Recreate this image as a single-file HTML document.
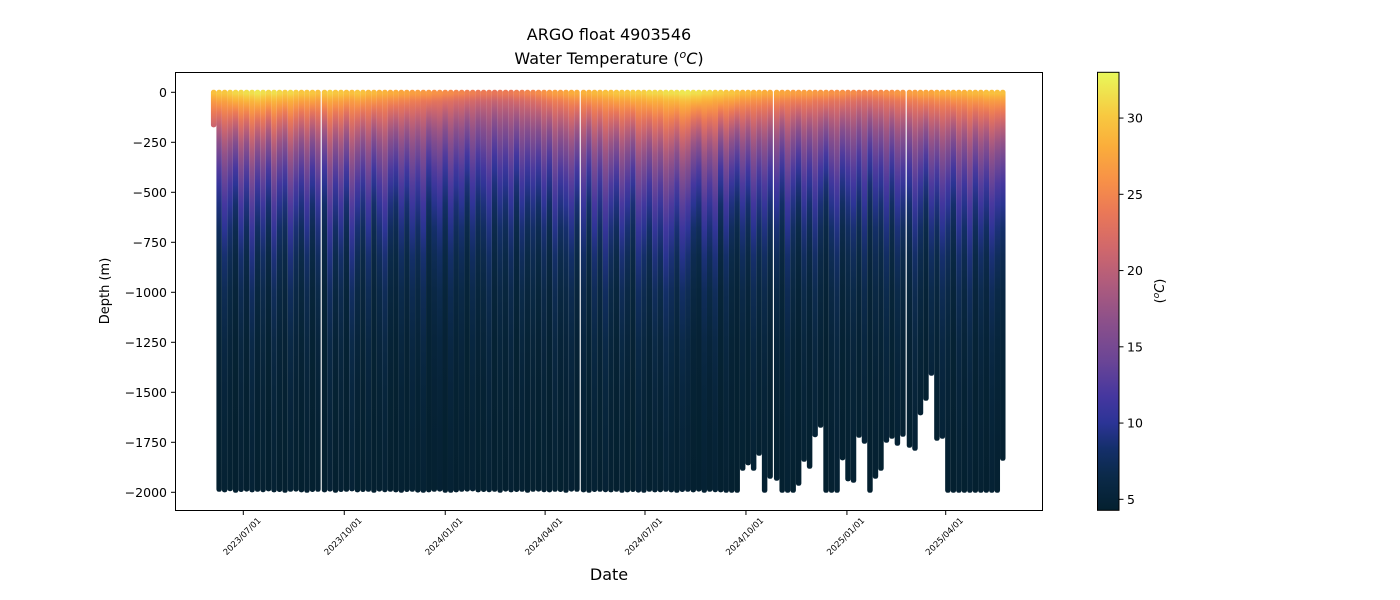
<!DOCTYPE html>
<html><head><meta charset="utf-8"><style>
html,body{margin:0;padding:0;background:#fff;}
svg{display:block;font-family:"DejaVu Sans","Liberation Sans",sans-serif;}
</style></head><body>
<svg id="chart" width="1400" height="600" viewBox="0 0 1400 600" xmlns="http://www.w3.org/2000/svg">
<defs id="defs"></defs>
<text x="609" y="40" text-anchor="middle" font-size="16">ARGO float 4903546</text>
<text x="609" y="64" text-anchor="middle" font-size="16">Water Temperature (<tspan font-style="italic" font-size="11" dy="-6">o</tspan><tspan font-style="italic" dy="6">C</tspan>)</text>
<g id="profiles"></g>
<rect x="175.5" y="72.5" width="867" height="438" fill="none" stroke="#000" stroke-width="1"/>
<g id="yaxis"></g>
<g id="xaxis"></g>
<text transform="translate(109,291) rotate(-90)" text-anchor="middle" font-size="13">Depth (m)</text>
<text x="609" y="580" text-anchor="middle" font-size="16">Date</text>
<g id="cbar"></g>
<text transform="translate(1164,291) rotate(-90)" text-anchor="middle" font-size="13">(<tspan font-style="italic" font-size="9" dy="-5">o</tspan><tspan font-style="italic" dy="5">C</tspan>)</text>
</svg>
<script>
// ---- data (days since 2023-07-01) ----
const profileDays = [-27,-22,-17,-12,-7,-2,3,8,13,18,23,28,33,38,43,48,53,58,63,68,
74,79,84,89,94,99,104,109,114,119,124,129,134,139,144,149,154,159,164,169,174,179,184,189,194,199,204,209,214,219,224,229,234,239,244,249,254,259,264,269,274,279,284,289,294,299,304,
310,315,320,325,330,335,340,345,350,355,360,365,370,375,380,385,390,395,400,405,410,415,420,425,430,435,440,445,450,455,460,465,470,475,480,
486,491,496,501,506,511,516,521,526,531,536,541,546,551,556,561,566,571,576,581,586,591,596,601,
607,612,617,622,627,632,637,642,647,652,657,662,667,672,677,682,687,692];
const maxDepth = [163,1985,1988,1982,1990,1986,1984,1988,1985,1987,1983,1988,1986,1990,1985,1984,1988,1990,1986,1985,
1988,1984,1990,1986,1985,1983,1988,1986,1985,1990,1984,1987,1985,1988,1990,1986,1985,1989,1990,1988,1985,1984,1990,1990,1988,1985,1984,1983,1988,1986,1987,1985,1990,1984,1988,1986,1985,1990,1985,1984,1987,1988,1985,1986,1990,1984,1985,
1988,1990,1986,1985,1987,1988,1985,1990,1988,1986,1989,1990,1985,1988,1987,1985,1988,1990,1986,1985,1988,1984,1990,1985,1987,1988,1990,1990,1990,1880,1853,1880,1805,1990,1920,
1930,1990,1990,1990,1955,1835,1870,1712,1665,1990,1990,1990,1828,1933,1940,1715,1745,1990,1920,1880,1740,1720,1755,1710,
1765,1780,1603,1530,1405,1730,1720,1990,1990,1990,1990,1990,1990,1990,1990,1990,1990,1830];
const surfaceTemp = [29.5,30,30,30.5,31,31,31.5,31.5,32,31.5,31,31.5,31,30.5,31,30.5,30,30,30,29.5,
30,30.5,30,30,29.5,29.5,30,29.5,29,29,28.5,28.5,28,28,27.5,27.5,27,27,26.5,26.5,26,26,25.5,25.5,25,25,24.5,24.5,24,24,24,23.5,24,24,24,24.5,24.5,25,25,25.5,26,26.5,27,27,27.5,28,28,
28.5,28.5,29,29,29.5,29.5,30,30,30,30.5,30.5,30.5,31,31,31,31.5,31.5,31.5,32,32,31.5,31.5,31,31,30.5,30.5,30,30,29.5,29,29,28.5,28.5,28,28,
28,27.5,27.5,27,27,27,27,26.5,26.5,26.5,26,26,26,25.5,25.5,25,25,25,25.5,25.5,26,26,26.5,26.5,
27,27,27.5,27.5,27.5,28,28,28,28.5,28.5,28.5,29,29,29,29.5,29.5,29.5,29.5];
const thermoScale = [420,330,460,370,290,440,320,490,330,410,300,470,350,320,480,380,330,440,300,410,
290,500,350,440,310,520,380,330,470,300,410,490,350,310,440,330,480,380,510,310,410,470,330,500,370,440,310,480,350,400,510,330,440,370,490,310,460,350,410,330,440,310,480,370,400,460,330,
440,300,480,350,510,400,330,470,380,310,500,440,350,480,400,520,460,370,500,440,350,310,470,380,480,290,440,330,280,410,310,470,350,440,330,
410,300,480,370,290,440,330,470,350,280,410,480,310,380,440,330,480,290,410,350,470,310,440,370,
330,470,370,290,440,350,480,400,310,470,370,500,330,440,350,480,400,370];
// ---- scales ----
const X0 = 243.3, PXDAY = 1.0975;
const xScale = d => X0 + d * PXDAY;
const yScale = m => 92.3 + m * 0.2;
const TMIN = 4.28, TMAX = 33.0;
const cstops = [[0,[4,32,47]],[0.08,[11,42,74]],[0.14,[20,47,106]],[0.2,[44,52,150]],[0.26,[69,55,159]],[0.34,[106,69,150]],[0.44,[143,81,137]],[0.52,[176,92,124]],[0.6,[209,104,107]],[0.68,[234,120,87]],[0.75,[247,144,72]],[0.83,[250,173,59]],[0.9,[248,200,64]],[1,[232,248,90]]];
function cmap(t){
  let f=(t-TMIN)/(TMAX-TMIN); f=Math.max(0,Math.min(1,f));
  for(let i=1;i<cstops.length;i++){
    if(f<=cstops[i][0]){
      const a=cstops[i-1],b=cstops[i],u=(f-a[0])/(b[0]-a[0]);
      const c=a[1].map((v,k)=>Math.round(v+(b[1][k]-v)*u));
      return `rgb(${c[0]},${c[1]},${c[2]})`;
    }
  }
  return 'rgb(232,248,90)';
}
function tempAt(z,ts,h){
  const tm = ts-2.8, mld=45;
  if(z<=6) return ts;
  if(z<=mld) return ts+(tm-ts)*(z-6)/(mld-6);
  return 4.3+(tm-4.3)*Math.exp(-(z-mld)/h);
}
const NS='http://www.w3.org/2000/svg';
const defs=document.getElementById('defs');
const gP=document.getElementById('profiles');
const halfW = 2.5*PXDAY;
const depthSamples=[0,6,20,45,70,100,140,190,250,310,380,460,560,680,820,1000,1250,1500,1750,2000];
profileDays.forEach((d,i)=>{
  const md=maxDepth[i], ts=surfaceTemp[i], h=thermoScale[i];
  if(md===undefined) return;
  const g=document.createElementNS(NS,'linearGradient');
  g.setAttribute('id','pg'+i);
  g.setAttribute('gradientUnits','userSpaceOnUse');
  g.setAttribute('x1',0);g.setAttribute('x2',0);
  g.setAttribute('y1',yScale(0));g.setAttribute('y2',yScale(md));
  depthSamples.filter(z=>z<md).concat([md]).forEach(z=>{
    const s=document.createElementNS(NS,'stop');
    s.setAttribute('offset',(z/md).toFixed(4));
    s.setAttribute('stop-color',cmap(tempAt(z,ts,h)));
    g.appendChild(s);
  });
  defs.appendChild(g);
  const r=document.createElementNS(NS,'rect');
  
  
  r.setAttribute('x',xScale(d)-halfW);
  r.setAttribute('width',halfW*2);
  r.setAttribute('y',yScale(0)-2.5);
  r.setAttribute('height',yScale(md)-yScale(0)+5);
  r.setAttribute('rx',2.5);
  r.setAttribute('fill','url(#pg'+i+')');
  gP.appendChild(r);
});
// ---- y axis ----
const yTicks=[0,250,500,750,1000,1250,1500,1750,2000];
const yTickLabels=['0','\u2212250','\u2212500','\u2212750','\u22121000','\u22121250','\u22121500','\u22121750','\u22122000'];
const gy=document.getElementById('yaxis');
yTicks.forEach((v,i)=>{
  const y=yScale(v);
  const l=document.createElementNS(NS,'line');
  
  
  l.setAttribute('x1',171);l.setAttribute('x2',175.5);l.setAttribute('y1',y);l.setAttribute('y2',y);
  l.setAttribute('stroke','#000');
  gy.appendChild(l);
  const t=document.createElementNS(NS,'text');
  
  
  t.setAttribute('x',167);t.setAttribute('y',y+4.5);
  t.setAttribute('text-anchor','end');t.setAttribute('font-size','12.5');
  t.textContent=yTickLabels[i];
  gy.appendChild(t);
});
// ---- x axis ----
const xTickDays=[0,92,184,275,366,458,550,640];
const xTickLabels=['2023/07/01','2023/10/01','2024/01/01','2024/04/01','2024/07/01','2024/10/01','2025/01/01','2025/04/01'];
const gx=document.getElementById('xaxis');
xTickDays.forEach((d,i)=>{
  const x=xScale(d);
  const l=document.createElementNS(NS,'line');
  
  
  l.setAttribute('x1',x);l.setAttribute('x2',x);l.setAttribute('y1',510.5);l.setAttribute('y2',515);
  l.setAttribute('stroke','#000');
  gx.appendChild(l);
  const t=document.createElementNS(NS,'text');
  
  
  t.setAttribute('transform',`translate(${x+18},${521}) rotate(-45)`);
  t.setAttribute('text-anchor','end');t.setAttribute('font-size','8.5');
  t.textContent=xTickLabels[i];
  gx.appendChild(t);
});
// ---- colorbar ----
const cbTicks=[5,10,15,20,25,30];
const gc=document.getElementById('cbar');
const cg=document.createElementNS(NS,'linearGradient');
cg.setAttribute('id','cbg');cg.setAttribute('x1',0);cg.setAttribute('x2',0);cg.setAttribute('y1',1);cg.setAttribute('y2',0);
cstops.forEach(s=>{const st=document.createElementNS(NS,'stop');st.setAttribute('offset',s[0]);st.setAttribute('stop-color',`rgb(${s[1].join(',')})`);cg.appendChild(st);});
defs.appendChild(cg);
const cbTop=72.3, cbBot=510.3;
const cbY=t=>cbBot-(t-TMIN)/(TMAX-TMIN)*(cbBot-cbTop);
const cr=document.createElementNS(NS,'rect');


cr.setAttribute('x',1097.5);cr.setAttribute('y',cbTop);cr.setAttribute('width',21.5);cr.setAttribute('height',cbBot-cbTop);
cr.setAttribute('fill','url(#cbg)');cr.setAttribute('stroke','#000');cr.setAttribute('stroke-width',1);
gc.appendChild(cr);
cbTicks.forEach(v=>{
  const y=cbY(v);
  const l=document.createElementNS(NS,'line');
  
  
  l.setAttribute('x1',1119);l.setAttribute('x2',1123.5);l.setAttribute('y1',y);l.setAttribute('y2',y);
  l.setAttribute('stroke','#000');
  gc.appendChild(l);
  const t=document.createElementNS(NS,'text');
  
  
  t.setAttribute('x',1127);t.setAttribute('y',y+4.5);t.setAttribute('font-size','12.5');
  t.textContent=String(v);
  gc.appendChild(t);
});
</script>
</body></html>
